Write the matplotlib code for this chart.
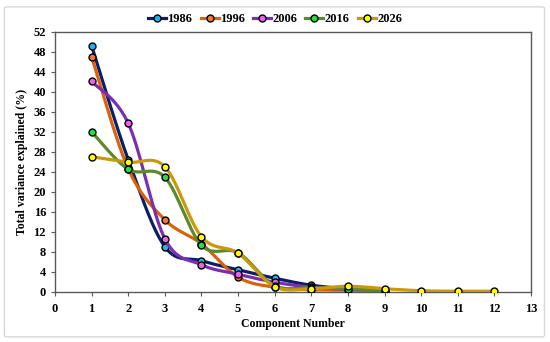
import numpy as np
import matplotlib.pyplot as plt
from matplotlib.patches import FancyBboxPatch

plt.rcParams['font.family'] = ['Liberation Serif', 'DejaVu Serif']
plt.rcParams['font.weight'] = 'bold'

years = ['1986', '1996', '2006', '2016', '2026']
v1986 = [49.2, 26.4, 9.0, 6.2, 4.4, 2.7, 1.3, 0.6, 0.3]
v1996 = [47.0, 24.6, 14.4, 9.6, 2.9, 0.9, 0.4, 0.3, 0.2]
v2006 = [42.1, 33.7, 10.6, 5.4, 3.5, 1.9, 0.9, 0.5, 0.3]
v2016 = [32.0, 24.5, 22.9, 9.3, 7.8, 1.2, 0.8, 0.6, 0.3]
v2026 = [27.0, 25.9, 25.0, 11.0, 7.7, 1.0, 0.6, 1.1, 0.6, 0.2, 0.1, 0.1]
series = [v1986, v1996, v2006, v2016, v2026]

line_colors = ['#0A1F66', '#D9620F', '#7B2FB0', '#5B8A2E', '#C9990A']
marker_colors = ['#1EB4F0', '#F07A32', '#F060F0', '#22E040', '#FFFF00']


def smooth(xs, ys, n=30):
    """Excel-like smoothed line (Catmull-Rom as cubic Bezier)"""
    xs = np.asarray(xs, float)
    ys = np.asarray(ys, float)
    px, py = [], []
    for i in range(len(xs) - 1):
        x0, y0 = (xs[i - 1], ys[i - 1]) if i > 0 else (xs[i], ys[i])
        x3, y3 = (xs[i + 2], ys[i + 2]) if i + 2 < len(xs) else (xs[i + 1], ys[i + 1])
        x1, y1, x2, y2 = xs[i], ys[i], xs[i + 1], ys[i + 1]
        c1x, c1y = x1 + (x2 - x0) / 6, y1 + (y2 - y0) / 6
        c2x, c2y = x2 - (x3 - x1) / 6, y2 - (y3 - y1) / 6
        t = np.linspace(0, 1, n)
        a, b, c, d = (1 - t) ** 3, 3 * (1 - t) ** 2 * t, 3 * (1 - t) * t ** 2, t ** 3
        px.extend(a * x1 + b * c1x + c * c2x + d * x2)
        py.extend(a * y1 + b * c1y + c * c2y + d * y2)
    return px, py


fig = plt.figure(figsize=(5.5, 3.42), dpi=100)
fig.patches.append(FancyBboxPatch((0.008, 0.015), 0.982, 0.965, boxstyle='round,pad=0,rounding_size=0.005',
                                  transform=fig.transFigure, fill=False, edgecolor='#D9D9D9', linewidth=1))
ax = fig.add_axes([0.1, 0.147, 0.8655, 0.76])

for i, vals in enumerate(series):
    x = np.arange(1, len(vals) + 1)
    sx, sy = smooth(x, vals)
    ax.plot(sx, sy, color=line_colors[i], linewidth=2.3, solid_capstyle='round', zorder=2 + i)
    ax.plot(x, vals, linestyle='none', marker='o', markersize=5, markerfacecolor=marker_colors[i],
            markeredgecolor='black', markeredgewidth=1, zorder=2 + i)
    ax.plot([], [], color=line_colors[i], linewidth=2.3, marker='o', markersize=5,
            markerfacecolor=marker_colors[i], markeredgecolor='black', label=years[i])

ax.set_xlim(0, 13)
ax.set_ylim(0, 52)
ax.set_xticks(range(0, 14))
ax.set_yticks(range(0, 53, 4))
ax.tick_params(labelsize=9, length=3, color='#595959')
ax.tick_params(axis='x', pad=5)
for s in ax.spines.values():
    s.set_color('#595959')
    s.set_linewidth(1)
ax.set_xlabel('Component Number', fontsize=8.5, fontweight='bold', labelpad=2)
ax.set_ylabel('Total variance explained (%)', fontsize=8.5, fontweight='bold', labelpad=4)

fig.legend(loc='center', bbox_to_anchor=(0.5, 0.944), ncol=5, frameon=False,
           handlelength=1.45, handletextpad=0.1, columnspacing=0.65, prop={'weight': 'bold', 'size': 9})

plt.savefig('out.png', dpi=100)
